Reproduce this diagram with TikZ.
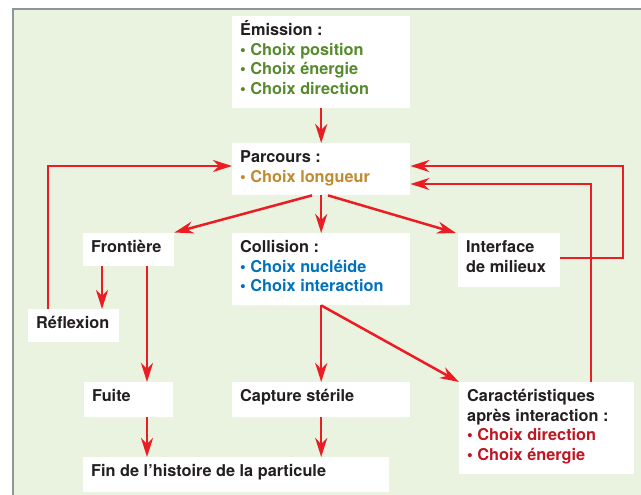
\documentclass[tikz,border=0pt]{standalone}
\usepackage{fontspec}
\setmainfont{TeX Gyre Heros}
\usetikzlibrary{arrows.meta}
\definecolor{framegreen}{RGB}{234,243,223}
\definecolor{framegray}{RGB}{140,150,155}
\definecolor{arrowred}{RGB}{236,28,36}
\definecolor{tblack}{RGB}{35,31,32}
\definecolor{tgreen}{RGB}{86,138,44}
\definecolor{tgold}{RGB}{192,138,48}
\definecolor{tblue}{RGB}{0,114,188}
\definecolor{tdred}{RGB}{190,22,34}
\tikzset{
  wbox/.style={fill=white, draw=none, inner sep=0pt, anchor=north west},
  arr/.style={draw=arrowred, line width=2.5pt, line join=miter,
    -{Stealth[length=19pt,width=12pt,inset=6pt]}},
  btxt/.style={anchor=base west, inner sep=0pt, xshift=8pt, yshift=-19.7pt,
    text=tblack, font=\bfseries\fontsize{16.3}{19.5}\selectfont},
}
\newcommand\boxtext[3]{\node[btxt] (#1) at (#2.north west) {\parbox[t]{320pt}{\raggedright #3}};}
\begin{document}
\begin{tikzpicture}[x=1pt,y=-1pt]
\useasboundingbox (0,0) rectangle (641,495);
\clip (0,0) rectangle (641,495);
\draw[framegray, line width=2pt, fill=framegreen] (13,9.3) rectangle (700,560);

% boxes
\node[wbox, minimum width=178pt, minimum height=92pt] (emis) at (232,16) {};
\node[wbox, minimum width=178pt, minimum height=52pt] (parc) at (232,143) {};
\node[wbox, minimum width=91pt, minimum height=33.5pt] (front) at (83,232.5) {};
\node[wbox, minimum width=178pt, minimum height=72pt] (coll) at (232,233) {};
\node[wbox, minimum width=102pt, minimum height=54pt] (inter) at (458,233) {};
\node[wbox, minimum width=91pt, minimum height=33pt] (refl) at (28,309) {};
\node[wbox, minimum width=89pt, minimum height=35pt] (fuite) at (84,382) {};
\node[wbox, minimum width=178pt, minimum height=35pt] (capt) at (232,382) {};
\node[wbox, minimum width=175pt, minimum height=92pt] (carac) at (459,382) {};
\node[wbox, minimum width=306pt, minimum height=35pt] (fin) at (83,457) {};

% texts
\boxtext{t-emis}{emis}{Émission :\\{\color{tgreen}• Choix position}\\{\color{tgreen}• Choix énergie}\\{\color{tgreen}• Choix direction}}
\boxtext{t-parc}{parc}{Parcours :\\{\color{tgold}• Choix longueur}}
\boxtext{t-front}{front}{Frontière}
\boxtext{t-coll}{coll}{Collision :\\{\color{tblue}• Choix nucléide}\\{\color{tblue}• Choix interaction}}
\boxtext{t-inter}{inter}{Interface\\de milieux}
\boxtext{t-refl}{refl}{Réflexion}
\boxtext{t-fuite}{fuite}{Fuite}
\boxtext{t-capt}{capt}{Capture stérile}
\boxtext{t-carac}{carac}{Caractéristiques\\après interaction :\\{\color{tdred}• Choix direction}\\{\color{tdred}• Choix énergie}}
\boxtext{t-fin}{fin}{Fin de l’histoire de la particule}

% connectors
\draw[arr] (emis.south) -- (parc.north);
\draw[arr] (48,0 |- refl.north) -- (48,166) -- (parc.west |- 0,166);
\draw[arr] (inter.east |- 0,258) -- (623,258) -- (623,166) -- (parc.east |- 0,166);
\draw[arr] (591,0 |- carac.north) -- (591,184) -- (parc.east |- 0,184);
\draw[arr] (parc.south -| 312,0) -- (front.north east);
\draw[arr] (parc.south) -- (coll.north);
\draw[arr] (parc.south -| 328,0) -- ([xshift=-2pt]inter.north west);
\draw[arr] (front.south -| 102,0) -- (refl.north -| 102,0);
\draw[arr] (front.south -| 147,0) -- (fuite.north -| 147,0);
\draw[arr] (coll.south) -- (capt.north);
\draw[arr] (coll.south) -- (carac.north west);
\draw[arr] (fuite.south -| 147,0) -- (fin.north -| 147,0);
\draw[arr] (capt.south) -- (fin.north -| capt.south);
\end{tikzpicture}
\end{document}
